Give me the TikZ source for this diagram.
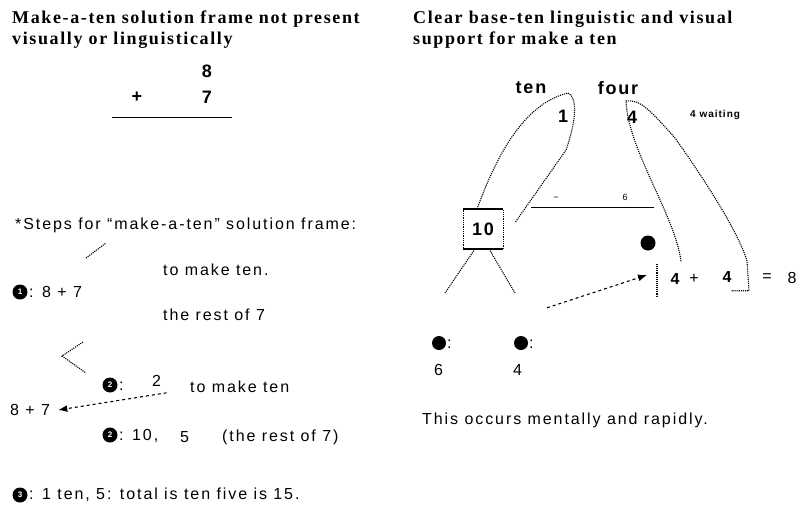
\documentclass[tikz,border=0pt]{standalone}
\usepackage{fontspec}
\setmainfont{Liberation Serif}
\setsansfont{Liberation Sans}
\newfontfamily\headfont{Liberation Serif}[LetterSpace=9]
\newfontfamily\bodyfont{Liberation Sans}[LetterSpace=12]
\newfontfamily\digfont{Liberation Sans}[LetterSpace=10]
\usetikzlibrary{arrows.meta}
\begin{document}
\begin{tikzpicture}[x=1pt,y=-1pt,
 head/.style={anchor=north west,font=\headfont\fontsize{18}{21}\selectfont\bfseries,inner sep=0,align=left},
 body/.style={anchor=west,font=\bodyfont\fontsize{16}{18}\selectfont,inner sep=0},
 dig/.style={font=\digfont\bfseries\fontsize{18}{20}\selectfont,inner sep=1pt},
 small/.style={font=\sffamily\fontsize{9}{10}\selectfont,inner sep=0},
 numdot/.style={circle,fill=black,inner sep=0,minimum size=15pt,font=\sffamily\bfseries\fontsize{8}{8}\selectfont,text=white},
 dotl/.style={densely dotted,line width=1.1pt},
 dashl/.style={dashed,line width=1.1pt},
]
\useasboundingbox (0,0) rectangle (808,515);

% ---------- left column ----------
\node[head] (hl) at (12,11) {Make-a-ten solution frame not present\\visually or linguistically};
\node[dig] (eight) at (207,71) {8};
\node[dig] (plus) at (137,97) {+};
\node[dig] (seven) at (207,97) {7};
\coordinate (sumL) at (112,117);
\coordinate (sumR) at (232,117);
\draw[line width=0.9pt] (sumL) -- (sumR);

\node[body] (steps) at (15,225) {*Steps for “make-a-ten” solution frame:};

\node[body] (tmt1) at (163,270) {to make ten.};
\node[numdot] (n1) at (20,292) {1};
\node[body] (s1) at (29,292) {: 8 + 7};
\node[body] (rest1) at (163,315) {the rest of 7};
\coordinate (a1) at (86,258);
\coordinate (a2) at (106,243);
\draw[dotl] (a1) -- (a2);

\coordinate (b1) at (83,342);
\coordinate (b2) at (62,356);
\coordinate (b3) at (86,373);
\draw[dotl] (b1) -- (b2) -- (b3);

\node[numdot] (n2a) at (110,385) {2};
\node[body] (colA) at (119,386) {:};
\node[body] (two) at (152,381) {2};
\node[body] (tmt2) at (190,387) {to make ten};
\node[body] (s2) at (10,410) {8 + 7};
\draw[dashl,-{Latex[length=9pt,width=7pt]}] ([shift={(10,6)}]two.south) -- ([xshift=8pt]s2.east);
\node[numdot] (n2b) at (110,435) {2};
\node[body] (colB) at (119,436) {: 10,};
\node[body] (five) at (180,437) {5};
\node[body] (rest2) at (222,437) {(the rest of 7)};

\node[numdot] (n3) at (20,495) {3};
\node[body] (s3) at (29,495) {: 1 ten, 5: total is ten five is 15.};

% ---------- right column ----------
\node[head] (hr) at (413,11) {Clear base-ten linguistic and visual\\support for make a ten};
\node[dig] (ten) at (531,88) {ten};
\node[dig] (fourw) at (618,88) {four};
\node[dig] (one) at (563,116) {1};
\node[dig] (four) at (632,117) {4};
\node[anchor=west,inner sep=0,font=\digfont\bfseries\fontsize{10}{11}\selectfont] (wait) at (690,115) {4 waiting};

\node[small] (minus) at (556,199) {−};
\node[small] (six) at (625,197) {6};
\coordinate (hlL) at (531,207);
\coordinate (hlR) at (654,207);
\draw[line width=0.9pt] (hlL) -- (hlR);

\node[dig,draw,densely dotted,line width=0.8pt,minimum width=40pt,minimum height=39pt] (box) at (483,229) {10};
\draw[line width=1.6pt] (box.north west) -- (box.north east);
\draw[line width=1.6pt] (box.south west) -- (box.south east);

% funnel from "1" to box
\coordinate (apex1) at (568,93);
\draw[dotl] ([xshift=-6pt]box.north) .. controls (495,160) and (522,104) .. (apex1)
  .. controls (578,97) and (576,122) .. (566,150) -- ([shift={(12,13)}]box.north east);

% split of ten
\node[numdot,minimum size=14pt] (d6) at (439,343) {};
\node[body] (c6) at (447,344) {:};
\node[body] (v6) at (434,370) {6};
\node[numdot,minimum size=14pt] (d4) at (521,343) {};
\node[body] (c4) at (529,344) {:};
\node[body] (v4) at (513,370) {4};
\coordinate (l6) at (445,293);
\coordinate (l4) at (515,293);
\draw[dotl] ([xshift=-8pt]box.south) -- (l6);
\draw[dotl] ([xshift=6pt]box.south) -- (l4);

% equation 4 + 4 = 8
\node[numdot] (bigdot) at (648,243) {};
\node[anchor=center,inner sep=0,font=\sffamily\bfseries\fontsize{16}{17}\selectfont] (e1) at (675,279) {4};
\node[body,anchor=center] (ep) at (694,279) {+};
\node[anchor=center,inner sep=0,font=\sffamily\bfseries\fontsize{16}{17}\selectfont] (e2) at (727,277) {4};
\node[body,anchor=center] (eq) at (767,278) {=};
\node[body,anchor=center] (e3) at (792,278) {8};
\coordinate (brT) at (657,264);
\coordinate (brB) at (657,296);
\draw[dotl] (brT) -- (brB);

% funnel from "4" to the two 4s
\coordinate (apex4) at (634,101);
\draw[dotl] ([shift={(6,-12)}]e1.north) .. controls (675,215) and (628,150) .. ([xshift=-8pt]apex4)
  .. controls (640,99) and (650,110) .. (675,138) .. controls (705,180) and (740,235) .. ([shift={(20,-10)}]e2.north)
  -- ([shift={(22,8)}]e2.south) -- ([shift={(4,8)}]e2.south);

\draw[dashl,-{Latex[length=9pt,width=7pt]}] ([shift={(26,-28)}]d4.north) -- ([shift={(-10,-4)}]brT |- e1.west);

\node[body] (note) at (422,420) {This occurs mentally and rapidly.};
\end{tikzpicture}
\end{document}
